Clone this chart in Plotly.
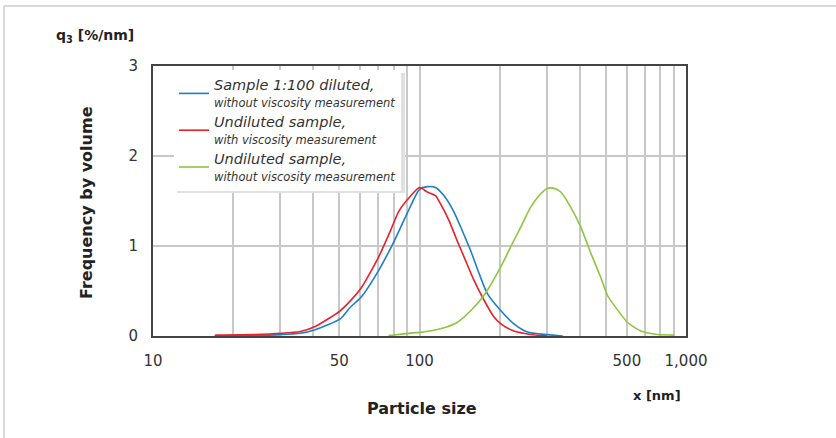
import plotly.graph_objects as go

# ---- data ----
blue_x = [17, 23, 30, 35.7, 40.6, 50.4, 55, 60.3, 70.3, 79.6, 89.8, 100, 107, 114.8, 123.4, 134.6, 144.7, 155.5, 167.1, 179.7, 202, 226, 254, 301, 345]
blue_y = [0.0, 0.005, 0.015, 0.03, 0.07, 0.19, 0.32, 0.43, 0.73, 1.03, 1.36, 1.63, 1.66, 1.65, 1.56, 1.38, 1.17, 0.95, 0.70, 0.47, 0.28, 0.135, 0.045, 0.015, 0.0]

red_x = [17.1, 23.2, 30.3, 35.7, 40.6, 50.4, 55, 60.3, 70.3, 77.8, 83.4, 89.8, 100, 107, 114.8, 119.8, 128.7, 138.4, 148.8, 160, 174.5, 190.4, 202, 226, 261, 301]
red_y = [0.01, 0.015, 0.03, 0.05, 0.105, 0.28, 0.39, 0.53, 0.88, 1.17, 1.38, 1.51, 1.65, 1.60, 1.56, 1.47, 1.29, 1.06, 0.84, 0.62, 0.40, 0.21, 0.135, 0.055, 0.017, 0.0]

green_x = [76.5, 95, 100.8, 119.8, 138.4, 155.5, 174.5, 202, 219.8, 239.8, 261, 285, 301, 320, 339, 369.6, 403, 439.5, 479, 507.6, 537.7, 603.7, 677.4, 782.8, 903.6]
green_y = [0.005, 0.035, 0.04, 0.08, 0.15, 0.28, 0.45, 0.77, 0.99, 1.21, 1.43, 1.58, 1.64, 1.64, 1.60, 1.43, 1.21, 0.92, 0.65, 0.45, 0.34, 0.15, 0.055, 0.016, 0.01]

names = [
    "<i><span style='font-size:14.5px'>Sample 1:100 diluted,</span></i><br><i><span style='font-size:11.5px'>without viscosity measurement</span></i>",
    "<i><span style='font-size:14.5px'>Undiluted sample,</span></i><br><i><span style='font-size:11.5px'>with viscosity measurement</span></i>",
    "<i><span style='font-size:14.5px'>Undiluted sample,</span></i><br><i><span style='font-size:11.5px'>without viscosity measurement</span></i>",
]
colors = ["#1b7fc8", "#e8212b", "#8dc63f"]

x_tickvals = [20, 30, 40, 50, 60, 70, 80, 90, 100, 200, 300, 400, 500, 600, 700, 800, 900, 10, 1000]
x_ticktext = ["", "", "", "50", "", "", "", "", "100", "", "", "", "", "500", "", "", "", "10", "1,000"]
y_tickvals = [0, 1, 2, 3]

FONT = "DejaVu Sans, Verdana, sans-serif"

fig = go.Figure()
for xs, ys, nm, c in [(blue_x, blue_y, names[0], colors[0]),
                      (red_x, red_y, names[1], colors[1]),
                      (green_x, green_y, names[2], colors[2])]:
    fig.add_trace(go.Scatter(x=xs, y=ys, mode="lines", name=nm,
                             line=dict(color=c, width=1.6, shape="spline", smoothing=0.6)))

W, H = 836, 438
L, R, T, B = 153, 150, 66, 102
pw, ph = W - L - R, H - T - B

def px(xp):
    return (xp - L) / pw

def py(yp):
    return (H - B - yp) / ph

fig.update_layout(
    width=W, height=H,
    margin=dict(l=L, r=R, t=T, b=B),
    paper_bgcolor="white", plot_bgcolor="white",
    font=dict(family=FONT, color="#333333"),
    showlegend=True,
    legend=dict(x=px(174), y=py(70), xanchor="left", yanchor="top",
                bgcolor="white", borderwidth=0, itemwidth=30,
                font=dict(size=13, color="#333333", family=FONT),
                tracegroupgap=0),
    xaxis=dict(type="log", range=[1, 3],
               tickvals=x_tickvals, ticktext=x_ticktext, tickangle=0,
               showgrid=True, gridcolor="#c8c8c8", gridwidth=1.5,
               showline=True, linecolor="#444444", linewidth=2, mirror=True,
               ticks="", ticklabelstandoff=10,
               tickfont=dict(size=15, color="#333333", family=FONT),
               zeroline=False),
    yaxis=dict(range=[0, 3], tickvals=y_tickvals,
               showgrid=True, gridcolor="#c8c8c8", gridwidth=1.5,
               showline=True, linecolor="#444444", linewidth=2, mirror=True,
               ticks="", ticklabelstandoff=10,
               tickfont=dict(size=15, color="#333333", family=FONT),
               zeroline=False),
)

# titles as annotations
fig.add_annotation(x=px(86), y=py(203), xref="paper", yref="paper",
                   text="<b>Frequency by volume</b>", textangle=-90, showarrow=False,
                   font=dict(size=16, color="#222222", family=FONT),
                   xanchor="center", yanchor="middle")
fig.add_annotation(x=px(422), y=py(408), xref="paper", yref="paper",
                   text="<b>Particle size</b>", showarrow=False,
                   font=dict(size=16, color="#222222", family=FONT),
                   xanchor="center", yanchor="middle")
fig.add_annotation(x=px(95), y=py(36), xref="paper", yref="paper",
                   text="<b>q<sub>3</sub> [%/nm]</b>", showarrow=False,
                   font=dict(size=14, color="#222222", family=FONT),
                   xanchor="center", yanchor="middle")
fig.add_annotation(x=px(657), y=py(395), xref="paper", yref="paper",
                   text="<b>x [nm]</b>", showarrow=False,
                   font=dict(size=13, color="#222222", family=FONT),
                   xanchor="center", yanchor="middle")

# outer light frame (top and left)
fig.add_shape(type="line", xref="paper", yref="paper",
              x0=px(4), x1=px(840), y0=py(6), y1=py(6),
              line=dict(color="#d8d8d8", width=2))
fig.add_shape(type="line", xref="paper", yref="paper",
              x0=px(4), x1=px(4), y0=py(6), y1=py(442),
              line=dict(color="#d8d8d8", width=2))

# legend shadow
fig.add_shape(type="rect", xref="paper", yref="paper",
              x0=px(177), x1=px(405), y0=py(193), y1=py(73),
              fillcolor="#e0e0e0", line=dict(width=0), layer="above")

fig.write_html("out.html")
